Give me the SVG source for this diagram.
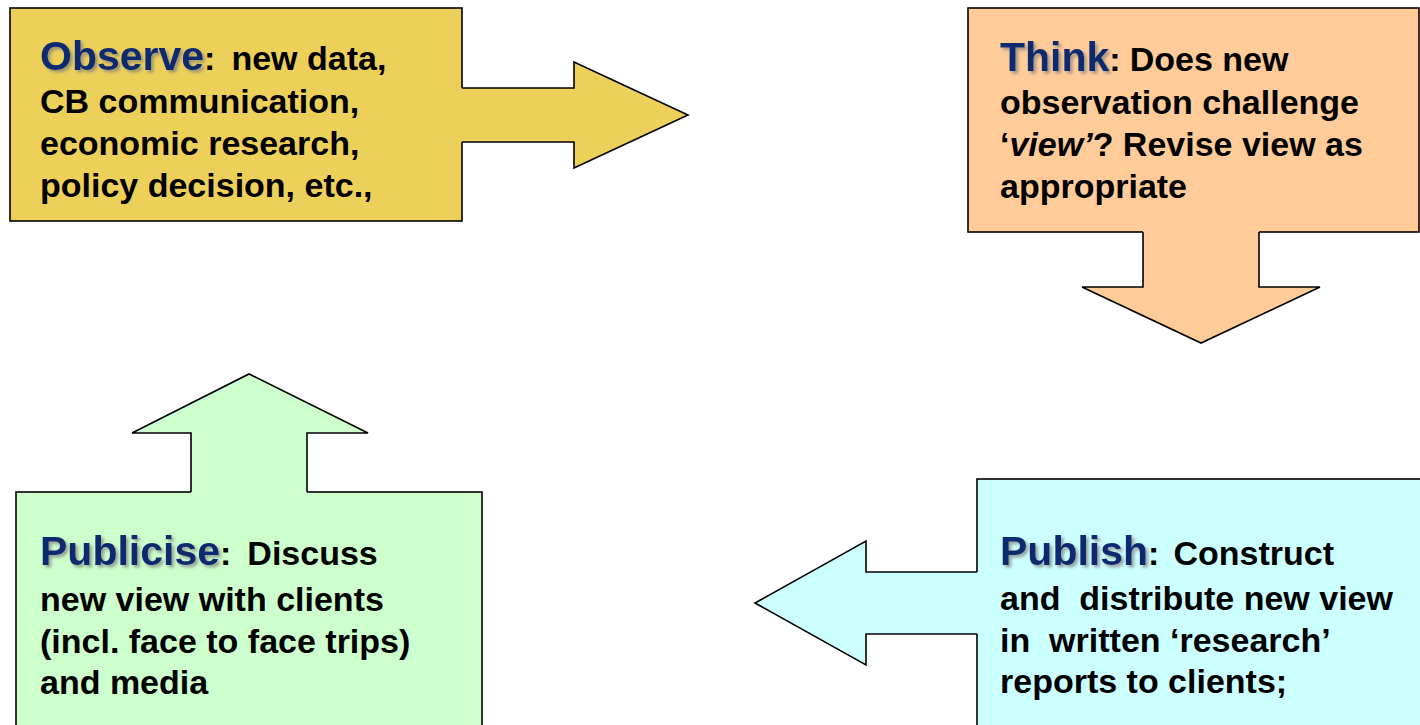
<svg xmlns="http://www.w3.org/2000/svg" width="1420" height="725" viewBox="0 0 1420 725">
  <defs>
    <filter id="titleShadow" x="-10%" y="-30%" width="130%" height="170%">
      <feDropShadow dx="2.5" dy="2.5" stdDeviation="1.6" flood-color="#7a7a7a" flood-opacity="0.7"/>
    </filter>
  </defs>
  <style>
    .box { stroke: #000; stroke-width: 1.6; }
    .edge { fill: none; stroke: #000; stroke-width: 1.6; stroke-linejoin: miter; }
    .observe { fill: #EDD05A; }
    .think { fill: #FFCC99; }
    .publish { fill: #CCFFFF; }
    .publicise { fill: #CCFFCC; }
    text { font-family: "Liberation Sans", Arial, sans-serif; font-weight: bold; fill: #000; white-space: pre; }
    .body { font-size: 34px; }
    .title { font-size: 41px; fill: #0B2A6F; filter: url(#titleShadow); }
    .it { font-style: italic; }
  </style>

  <rect width="1420" height="725" fill="#fff"/>

  <!-- stage boxes -->
  <g id="observe">
    <rect class="box observe" x="10" y="8" width="452" height="213"/>
    <text class="body" x="40" y="70"><tspan class="title">Observe</tspan>:<tspan dx="16">new data,</tspan></text>
    <text class="body" x="40" y="113">CB communication,</text>
    <text class="body" x="40" y="155">economic research,</text>
    <text class="body" x="40" y="197">policy decision, etc.,</text>
  </g>

  <g id="think">
    <rect class="box think" x="968" y="8" width="451" height="224"/>
    <text class="body" x="1000" y="71"><tspan class="title">Think</tspan>:<tspan dx="9">Does new</tspan></text>
    <text class="body" x="1000" y="114">observation challenge</text>
    <text class="body" x="1000" y="156">‘<tspan class="it">view’</tspan>? Revise view as</text>
    <text class="body" x="1000" y="198">appropriate</text>
  </g>

  <g id="publish">
    <rect class="box publish" x="977" y="479" width="460" height="260"/>
    <text class="body" x="1000" y="565"><tspan class="title">Publish</tspan>:<tspan dx="14">Construct</tspan></text>
    <text class="body" x="1000" y="610">and  distribute new view</text>
    <text class="body" x="1000" y="652">in  written ‘research’</text>
    <text class="body" x="1000" y="693">reports to clients;</text>
  </g>

  <g id="publicise">
    <rect class="box publicise" x="16" y="492" width="466" height="250"/>
    <text class="body" x="40" y="565"><tspan class="title">Publicise</tspan>:<tspan dx="16">Discuss</tspan></text>
    <text class="body" x="40" y="611">new view with clients</text>
    <text class="body" x="40" y="653">(incl. face to face trips)</text>
    <text class="body" x="40" y="694">and media</text>
  </g>

  <!-- block arrows leading from one stage to the next -->
  <g id="connectors">
    <!-- observe -> think -->
    <polygon class="observe" points="458,88 574,88 574,62 688,115 574,168 574,142 458,142"/>
    <path class="edge" d="M462,88 H574 V62 L688,115 L574,168 V142 H462"/>
    <!-- think -> publish -->
    <polygon class="think" points="1143,228 1143,287 1082,287 1201,343 1320,287 1259,287 1259,228"/>
    <path class="edge" d="M1143,232 V287 H1082 L1201,343 L1320,287 H1259 V232"/>
    <!-- publish -> publicise -->
    <polygon class="publish" points="981,572 866,572 866,541 755,603 866,665 866,634 981,634"/>
    <path class="edge" d="M977,572 H866 V541 L755,603 L866,665 V634 H977"/>
    <!-- publicise -> observe -->
    <polygon class="publicise" points="191,496 191,433 132,433 249,374 368,433 307,433 307,496"/>
    <path class="edge" d="M191,492 V433 H132 L249,374 L368,433 H307 V492"/>
  </g>
</svg>
